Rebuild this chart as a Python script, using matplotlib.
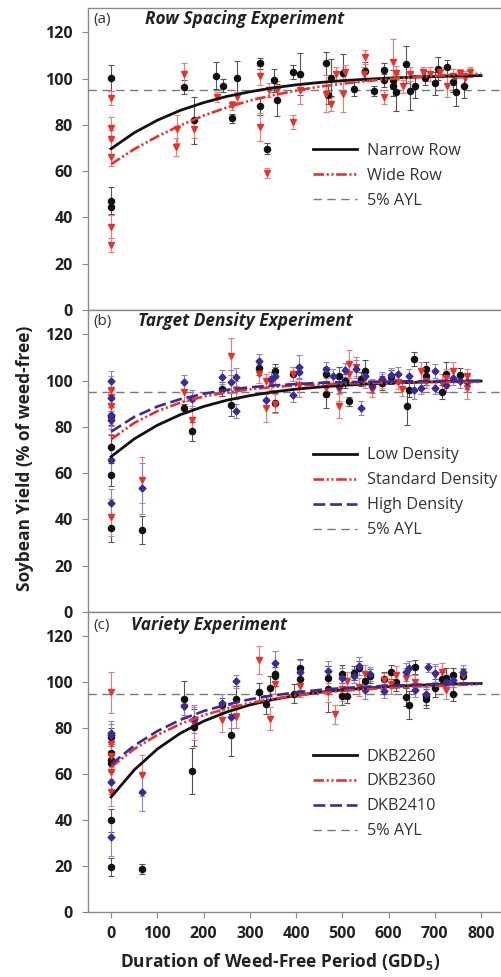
import matplotlib
matplotlib.use("Agg")
import matplotlib.pyplot as plt
from matplotlib.lines import Line2D

plt.rcParams["font.family"] = ["Open Sans", "DejaVu Sans"]
plt.rcParams["mathtext.fontset"] = "custom"
plt.rcParams["mathtext.rm"] = "Open Sans"
plt.rcParams["mathtext.bf"] = "Open Sans:bold"

# ─────────────────────────────────────────────
#  Data
# ─────────────────────────────────────────────
CURVE_X = [0, 50, 100, 150, 200, 250, 300, 350, 400, 450, 500, 550, 600, 650, 700, 750, 800]

# (a) Row spacing
xa_n = [0, 0, 0, 158, 179, 227, 243, 261, 273, 322, 322, 337, 353, 358, 394, 409, 465, 469, 475,
        502, 525, 548, 569, 589, 589, 609, 610, 617, 637, 646, 657, 679, 701, 706, 726, 739, 746, 764]
ya_n = [100.3, 47.0, 44.3, 96.3, 81.9, 101.3, 97.0, 82.9, 100.3, 106.6, 88.2, 69.7, 99.2, 90.8,
        103.0, 102.0, 106.6, 93.1, 100.3, 102.6, 95.6, 103.2, 94.6, 103.8, 99.2, 99.6, 96.6, 94.1,
        106.1, 94.6, 96.6, 100.3, 98.0, 104.2, 105.2, 98.4, 94.1, 96.6]
ea_n = [5.5, 6, 3, 3, 10, 6, 3, 2, 7.5, 2.5, 4, 2.5, 5, 7, 3, 9, 5, 4, 8, 8, 3, 4, 2, 3, 3, 4, 4,
        8, 8, 8, 5, 3, 5, 5, 3, 4, 6, 5]

xa_w = [0, 0, 0, 0, 0, 0, 141, 142, 158, 180, 228, 261, 273, 322, 322, 337, 342, 358, 394, 409,
        465, 475, 486, 502, 506, 546, 548, 589, 609, 617, 632, 646, 675, 690, 711, 726, 740, 755,
        766, 776]
ya_w = [91.5, 78.6, 74.0, 66.1, 35.9, 28.0, 70.4, 78.3, 101.8, 78.3, 92.0, 88.4, 92.0, 101.3, 79.0,
        59.2, 94.9, 94.9, 81.2, 94.9, 93.4, 89.1, 102.0, 93.4, 102.8, 101.8, 109.5, 92.0, 107.1,
        102.3, 96.6, 101.8, 102.8, 102.0, 102.8, 97.0, 101.3, 102.3, 100.3, 102.8]
ea_w = [3, 5, 4, 4, 5, 3, 4, 6, 5, 4, 2, 2, 2, 4, 6, 2, 3, 4, 3, 6, 8, 3, 3, 8, 3, 3, 3, 3, 10, 3,
        3, 3, 2, 3, 2, 5, 3, 2, 3, 2]

fit_a_narrow = [69.7, 76.6, 82.0, 86.3, 89.6, 92.3, 94.3, 96.0, 97.3, 98.3, 99.1, 99.7, 100.2,
                100.6, 100.9, 101.1, 101.3]
fit_a_wide = [63.0, 69.5, 75.0, 79.8, 84.0, 87.5, 90.5, 92.8, 94.8, 96.5, 97.8, 98.9, 99.8,
              100.6, 101.2, 101.7, 102.1]

# (b) Target density
xb_l = [0, 0, 0, 0, 67, 158, 175, 240, 260, 320, 355, 355, 393, 465, 465, 492, 505, 515, 540, 550,
        585, 605, 640, 645, 655, 680, 680, 715, 725, 755]
yb_l = [84.6, 71.4, 59.3, 36.4, 35.3, 88.0, 78.0, 96.5, 89.5, 105.5, 104.0, 90.5, 102.7, 103.0,
        94.0, 102.0, 100.0, 91.0, 100.5, 104.0, 99.0, 101.5, 89.0, 96.0, 109.5, 105.0, 102.0, 95.0,
        103.0, 102.5]
eb_l = [4, 5, 5, 6, 6, 2, 4, 3, 5, 3, 3, 4, 3, 3, 6, 4, 3, 2, 3, 5, 3, 3, 8, 3, 3, 3, 4, 3, 5, 3]

xb_s = [0, 0, 0, 0, 0, 67, 158, 175, 260, 270, 320, 335, 335, 345, 355, 393, 407, 465, 492, 492,
        515, 515, 530, 550, 565, 585, 620, 630, 670, 680, 715, 725, 740, 770, 770]
yb_s = [96.0, 93.0, 89.0, 82.0, 41.0, 57.0, 95.0, 83.0, 110.5, 96.0, 103.0, 88.0, 100.0, 99.0,
        90.0, 103.0, 98.0, 97.0, 96.0, 89.0, 107.0, 103.0, 106.0, 101.0, 96.0, 100.0, 99.5, 96.5,
        104.0, 100.0, 99.0, 101.0, 104.0, 97.0, 102.0]
eb_s = [6, 4, 4, 5, 8, 10, 4, 6, 8, 4, 4, 6, 3, 3, 4, 3, 5, 4, 5, 5, 6, 4, 4, 4, 3, 3, 3, 3, 4, 3,
        4, 4, 4, 5, 3]

xb_h = [0, 0, 0, 0, 0, 0, 67, 158, 175, 240, 260, 270, 270, 320, 335, 345, 355, 393, 407, 407, 465,
        480, 492, 505, 530, 540, 550, 565, 585, 605, 620, 645, 655, 670, 700, 700, 725, 740, 755, 770]
yb_h = [100.0, 92.5, 85.3, 83.0, 65.5, 47.0, 53.5, 99.4, 92.0, 101.5, 99.5, 101.5, 87.0, 108.5,
        91.5, 100.5, 102.0, 93.7, 106.0, 103.5, 105.0, 102.0, 97.5, 104.5, 105.0, 88.0, 102.0, 97.5,
        100.5, 102.5, 103.0, 102.0, 96.0, 97.0, 104.0, 97.0, 98.0, 101.0, 100.0, 99.5]
eb_h = [4, 4, 5, 4, 6, 6, 11, 3, 4, 3, 5, 4, 3, 3, 3, 3, 4, 3, 5, 3, 3, 3, 3, 3, 4, 3, 3, 3, 3, 3,
        3, 3, 4, 3, 3, 3, 3, 3, 3, 3]

fit_b_low = [67.1, 74.8, 80.7, 85.3, 88.8, 91.5, 93.5, 95.1, 96.3, 97.2, 97.9, 98.5, 98.9, 99.2,
             99.5, 99.7, 99.8]
fit_b_std = [74.6, 81.7, 86.8, 90.5, 93.1, 94.9, 96.2, 97.2, 97.9, 98.3, 98.7, 98.9, 99.1, 99.2,
             99.3, 99.4, 99.4]
fit_b_high = [77.9, 84.3, 88.8, 92.0, 94.3, 96.0, 97.1, 97.9, 98.5, 99.0, 99.3, 99.5, 99.6, 99.7,
              99.8, 99.9, 99.9]

# (c) Variety
xc_1 = [0, 0, 0, 0, 0, 0, 67, 157, 175, 180, 240, 260, 270, 320, 335, 343, 355, 355, 395, 408, 408,
        468, 468, 500, 500, 510, 525, 535, 550, 560, 590, 605, 615, 637, 645, 658, 680, 680, 700,
        715, 725, 740, 740, 760]
yc_1 = [76.0, 69.0, 66.0, 65.0, 40.0, 19.5, 18.7, 92.5, 61.3, 80.3, 90.0, 77.0, 92.5, 95.5, 90.3,
        97.5, 103.5, 102.5, 95.0, 106.0, 101.5, 102.0, 97.0, 103.5, 94.0, 94.0, 104.0, 106.0, 100.5,
        102.5, 101.5, 104.5, 100.0, 93.5, 90.0, 106.5, 94.0, 92.8, 97.5, 101.5, 102.0, 103.0, 95.0,
        102.5]
ec_1 = [4, 5, 4, 4, 5, 4, 2, 8, 10, 8, 3, 9, 6, 4, 4, 5, 5, 4, 4, 4, 5, 5, 10, 4, 4, 3, 3, 3, 4, 3,
        3, 3, 4, 4, 6, 3, 4, 4, 4, 3, 4, 3, 3, 3]

xc_2 = [0, 0, 0, 0, 0, 67, 157, 180, 240, 270, 320, 343, 355, 408, 468, 485, 500, 510, 535, 550,
        590, 605, 615, 637, 658, 700, 715, 725, 760]
yc_2 = [95.5, 73.0, 68.0, 61.0, 52.0, 59.5, 89.0, 82.0, 83.5, 85.0, 109.5, 84.0, 99.0, 98.5, 95.5,
        86.0, 97.0, 100.5, 98.0, 103.5, 101.0, 99.0, 103.0, 102.0, 100.0, 103.0, 104.5, 96.5, 103.0]
ec_2 = [9, 5, 5, 5, 6, 9, 4, 7, 5, 5, 6, 5, 4, 5, 4, 4, 5, 4, 4, 4, 3, 4, 4, 4, 3, 4, 4, 4, 3]

xc_3 = [0, 0, 0, 0, 67, 157, 180, 240, 260, 270, 355, 408, 468, 500, 525, 535, 550, 560, 590, 637,
        645, 658, 680, 685, 700, 725, 740, 760]
yc_3 = [78.0, 77.0, 56.5, 32.5, 52.0, 89.5, 84.0, 91.0, 85.0, 100.3, 108.5, 104.5, 105.0, 102.0,
        102.5, 107.0, 96.5, 103.5, 96.0, 104.5, 106.0, 96.5, 95.0, 106.5, 104.0, 100.0, 101.0, 104.5]
ec_3 = [5, 5, 5, 8, 8, 4, 6, 4, 5, 3, 5, 5, 4, 4, 3, 4, 4, 3, 3, 4, 3, 3, 3, 2, 4, 3, 3, 3]

fit_c_2260 = [50.0, 61.8, 70.9, 77.8, 83.0, 87.0, 90.1, 92.4, 94.2, 95.6, 96.6, 97.4, 98.0, 98.5,
              98.9, 99.2, 99.4]
fit_c_2360 = [63.1, 70.9, 77.0, 81.8, 85.6, 88.5, 90.9, 92.7, 94.2, 95.3, 96.2, 96.9, 97.5, 98.0,
              98.4, 98.8, 99.1]
fit_c_2410 = [64.2, 72.4, 78.7, 83.6, 87.4, 90.2, 92.5, 94.2, 95.5, 96.6, 97.4, 98.0, 98.4, 98.8,
              99.1, 99.3, 99.4]

AYL = 95

# ─────────────────────────────────────────────
#  Styles
# ─────────────────────────────────────────────
BLACK, RED, BLUE = "#111111", "#e8322a", "#3a2c94"
STYLE = {
    "black": dict(marker="o", color=BLACK, ecolor="#555555", ms=4.4),
    "red":   dict(marker="v", color=RED,   ecolor="#f07a74", ms=4.4),
    "blue":  dict(marker="D", color=BLUE,  ecolor="#8c84cc", ms=3.5),
}
LINE = {
    "black": dict(color=BLACK, lw=2.0, ls="-"),
    "red":   dict(color=RED, lw=1.9, ls=(0, (4, 1, 0.8, 1, 0.8, 1))),
    "blue":  dict(color=BLUE, lw=1.9, ls=(0, (4.5, 1.8))),
}
AXIS_GREY = "#8a8a8a"
TXT = "#222222"

panels = [
    dict(tag="(a)", title="Row Spacing Experiment", title_x=0.138, ty=0.962,
         series=[("black", xa_n, ya_n, ea_n), ("red", xa_w, ya_w, ea_w)],
         fits=[("black", fit_a_narrow, "Narrow Row"), ("red", fit_a_wide, "Wide Row")]),
    dict(tag="(b)", title="Target Density Experiment", title_x=0.121, ty=0.963,
         series=[("black", xb_l, yb_l, eb_l), ("red", xb_s, yb_s, eb_s),
                 ("blue", xb_h, yb_h, eb_h)],
         fits=[("black", fit_b_low, "Low Density"), ("red", fit_b_std, "Standard Density"),
               ("blue", fit_b_high, "High Density")]),
    dict(tag="(c)", title="Variety Experiment", title_x=0.104, ty=0.955,
         series=[("black", xc_1, yc_1, ec_1), ("red", xc_2, yc_2, ec_2),
                 ("blue", xc_3, yc_3, ec_3)],
         fits=[("black", fit_c_2260, "DKB2260"), ("red", fit_c_2360, "DKB2360"),
               ("blue", fit_c_2410, "DKB2410")]),
]

# [left, bottom, width, height] in figure fractions
boxes = [
    (0.1756, 0.6827, 0.8244, 0.3091),
    (0.1756, 0.3736, 0.8244, 0.3091),
    (0.1756, 0.0665, 0.8244, 0.3071),
]
legend_top = [0.553, 0.545, 0.545]

fig = plt.figure(figsize=(5.01, 9.77), dpi=100)

for i, (p, box) in enumerate(zip(panels, boxes)):
    ax = fig.add_axes(box)
    for key, xs, ys, es in p["series"]:
        st = STYLE[key]
        ax.errorbar(xs, ys, yerr=es, fmt=st["marker"], color=st["color"], ms=st["ms"],
                    mec=st["color"], ecolor=st["ecolor"], elinewidth=0.8,
                    capsize=2.4, capthick=0.8, zorder=3)
    handles = []
    for key, fit, lbl in p["fits"]:
        ln, = ax.plot(CURVE_X, fit, label=lbl, zorder=4, **LINE[key])
        handles.append(ln)
    ax.axhline(AYL, color="#7a7a7a", lw=1.0, ls=(0, (6, 4)), zorder=2)
    handles.append(Line2D([], [], color="#7a7a7a", lw=1.0, ls=(0, (6, 4)), label="5% AYL"))

    ax.legend(handles=handles, loc="upper left", bbox_to_anchor=(0.545, legend_top[i]),
              frameon=False, fontsize=11.7, handlelength=2.7, handletextpad=0.6,
              labelspacing=0.55, borderpad=0, borderaxespad=0, labelcolor="#333333")

    ax.set_xlim(-50, 843)
    ax.set_ylim(0, 130.5)
    ax.set_yticks(range(0, 121, 20))
    ax.spines["right"].set_visible(False)
    for s in ("left", "top", "bottom"):
        ax.spines[s].set_color(AXIS_GREY)
        ax.spines[s].set_linewidth(1.0)
    ax.tick_params(axis="y", direction="out", length=4, color=AXIS_GREY,
                   labelsize=11.5, pad=7)
    for t in ax.get_yticklabels():
        t.set_fontweight("bold")
        t.set_color(TXT)

    if i < 2:
        ax.set_xticks([])
    else:
        ax.set_xticks(range(0, 801, 100))
        ax.tick_params(axis="x", direction="out", length=4, color=AXIS_GREY,
                       labelsize=11.5, pad=6)
        for t in ax.get_xticklabels():
            t.set_fontweight("bold")
            t.set_color(TXT)

    ax.text(0.012, p["ty"], p["tag"], transform=ax.transAxes, ha="left", va="center",
            fontsize=11, color="#333333")
    ax.text(p["title_x"], p["ty"], p["title"], transform=ax.transAxes, ha="left",
            va="center", fontsize=12.4, fontweight="bold", fontstyle="italic", color=TXT)

fig.text(0.05, 0.531, "Soybean Yield (% of weed-free)", rotation=90, ha="center",
         va="center", fontsize=12.5, fontweight="bold", color=TXT)
fig.text(0.56, 0.016, "Duration of Weed-Free Period (GDD$_\\mathbf{5}$)", ha="center",
         va="center", fontsize=12.5, fontweight="bold", color=TXT)

fig.savefig("out.png", dpi=100, facecolor="white")
plt.close(fig)
